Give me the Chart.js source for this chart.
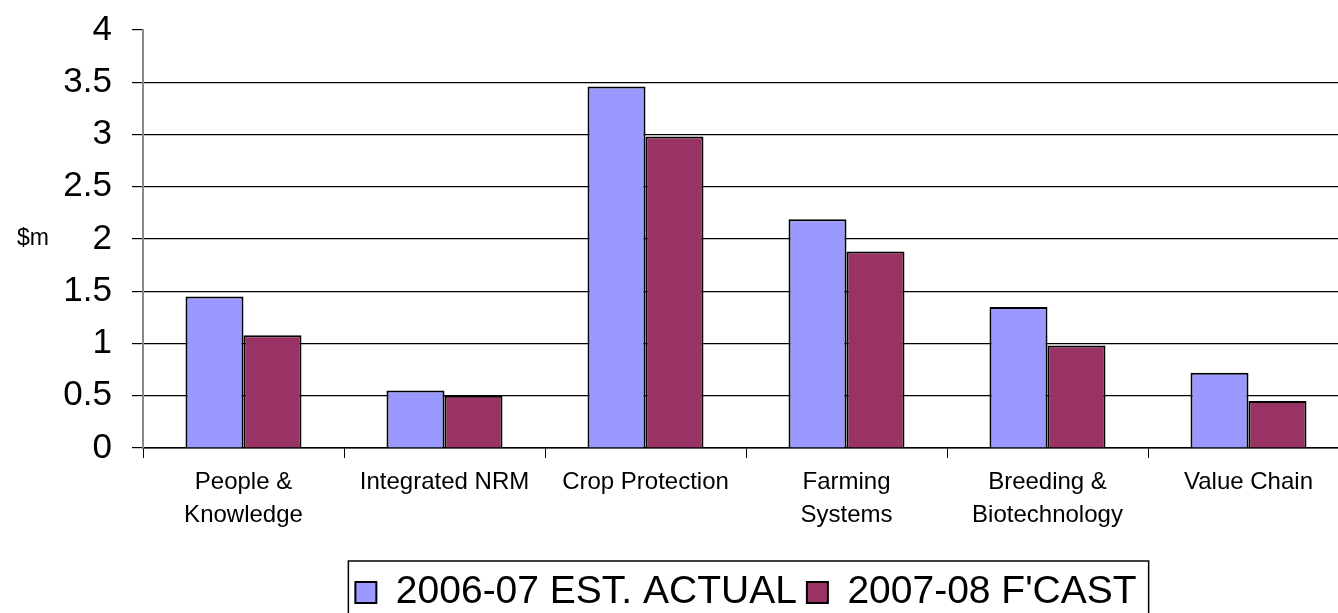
<!DOCTYPE html>
<html>
<head>
<meta charset="utf-8">
<script src="https://cdn.jsdelivr.net/npm/chart.js@4.4.1/dist/chart.umd.min.js"></script>
<style>
  html, body { margin: 0; padding: 0; overflow: hidden; background: #fff; }
  #wrap { width: 1352px; height: 622px; }
</style>
</head>
<body>
<div id="wrap"><canvas id="chart" width="1352" height="622"></canvas></div>
<script>
const categories = [
  ['People &', 'Knowledge'],
  'Integrated NRM',
  'Crop Protection',
  ['Farming', 'Systems'],
  ['Breeding &', 'Biotechnology'],
  'Value Chain',
];
const estActual = [1.45, 0.55, 3.46, 2.19, 1.35, 0.72];
const forecast = [1.08, 0.5, 2.98, 1.88, 0.98, 0.45];
const seriesNames = ['2006-07 EST. ACTUAL', "2007-08 F'CAST"];
const yTicks = [0, 0.5, 1, 1.5, 2, 2.5, 3, 3.5, 4];

const FONT = '"Liberation Sans", Arial, sans-serif';

// "$m" sits flat beside the axis, and the legend gets a plain box round it
const extras = {
  id: 'extras',
  afterDraw(chart) {
    const ctx = chart.ctx;
    ctx.save();
    ctx.fillStyle = '#000';
    ctx.font = '23px ' + FONT;
    ctx.textBaseline = 'middle';
    ctx.textAlign = 'left';
    ctx.fillText('$m', 17, chart.scales.y.getPixelForValue(2));

    const boxes = chart.legend.legendHitBoxes;
    if (boxes && boxes.length) {
      const left = Math.min(...boxes.map(b => b.left)) - 7;
      const right = Math.max(...boxes.map(b => b.left + b.width)) + 12;
      const top = Math.min(...boxes.map(b => b.top)) - 12;
      ctx.strokeStyle = '#000';
      ctx.lineWidth = 1.5;
      ctx.strokeRect(left, top, right - left, 200);
    }
    ctx.restore();
  }
};

new Chart(document.getElementById('chart'), {
  type: 'bar',
  data: {
    labels: categories,
    datasets: [
      {
        label: seriesNames[0],
        data: estActual,
        backgroundColor: '#9999FF',
        borderColor: '#000',
        borderWidth: 2,
      },
      {
        label: seriesNames[1],
        data: forecast,
        backgroundColor: '#993366',
        borderColor: '#000',
        borderWidth: 2,
      },
    ],
  },
  options: {
    responsive: false,
    animation: false,
    devicePixelRatio: 1,
    categoryPercentage: 0.577,
    barPercentage: 1,
    layout: { padding: { top: 30, right: 3, bottom: 0, left: 0 } },
    plugins: {
      tooltip: { enabled: false },
      legend: {
        position: 'bottom',
        fullSize: false,
        labels: {
          color: '#000',
          font: { family: FONT, size: 39 },
          boxWidth: 21,
          boxHeight: 21,
          padding: 10,
        },
      },
    },
    scales: {
      x: {
        grid: {
          drawOnChartArea: false,
          drawTicks: true,
          tickLength: 10,
          color: '#000',
        },
        border: { color: '#000', width: 1.5 },
        ticks: {
          color: '#000',
          font: { family: FONT, size: 24, lineHeight: 1.375 },
          maxRotation: 0,
          autoSkip: false,
          padding: 8,
        },
        afterFit(scale) { scale.height = 115; },
      },
      y: {
        min: 0,
        max: 4,
        afterBuildTicks(scale) { scale.ticks = yTicks.map(v => ({ value: v })); },
        grid: {
          color: c => (c.tick && c.tick.value === 4 ? 'rgba(0,0,0,0)' : '#000'),
          tickColor: '#000',
          tickLength: 11,
          lineWidth: 1.2,
        },
        border: { color: '#888', width: 2 },
        ticks: {
          color: '#000',
          font: { family: FONT, size: 35 },
          padding: 20,
          callback: v => String(v),
        },
        afterFit(scale) {
          scale.width = 143;
          scale.paddingTop = 0;
          scale.paddingBottom = 0;
        },
      },
    },
  },
  plugins: [extras],
});
</script>
</body>
</html>
